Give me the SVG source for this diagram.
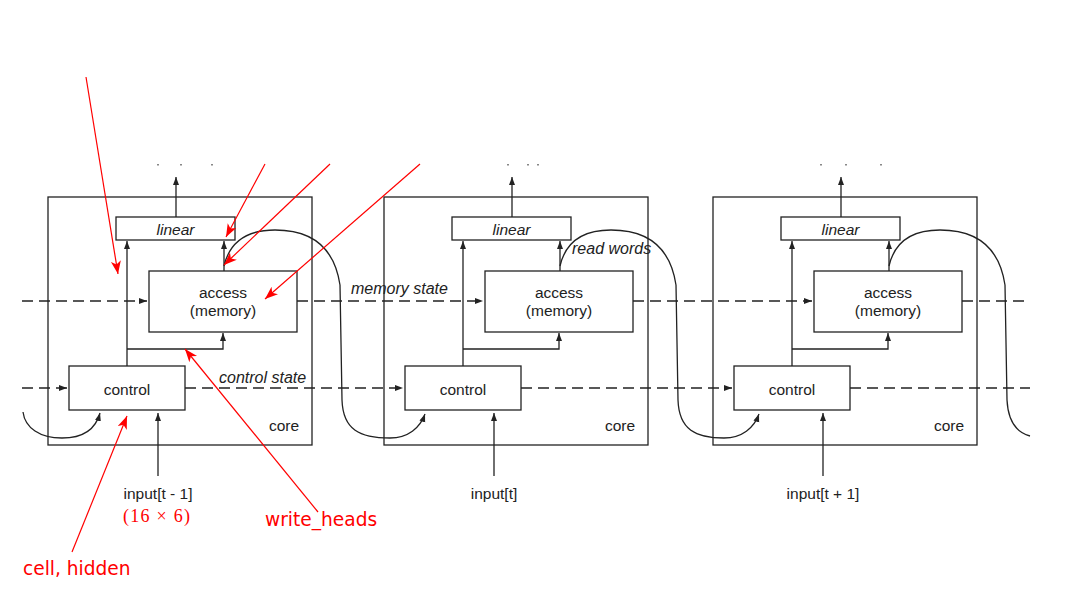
<svg xmlns="http://www.w3.org/2000/svg" width="1080" height="600" viewBox="0 0 1080 600">
<defs>
<marker id="ah" markerUnits="userSpaceOnUse" markerWidth="10" markerHeight="8" refX="8" refY="3" orient="auto"><path d="M0,0 L8,3 L0,6 z" fill="#222"/></marker>
<marker id="rh" markerUnits="userSpaceOnUse" markerWidth="14" markerHeight="12" refX="13" refY="5" orient="auto"><path d="M0,0 L13,5 L0,10 L3.5,5 z" fill="#ff0000"/></marker>
<style>
.core{fill:none;stroke:#222;stroke-width:1.3}
.box{fill:#fff;stroke:#222;stroke-width:1.3}
.ln{fill:none;stroke:#222;stroke-width:1.3}
.arr{fill:none;stroke:#222;stroke-width:1.3;marker-end:url(#ah)}
.dash{fill:none;stroke:#222;stroke-width:1.3;stroke-dasharray:11 6}
.red{fill:none;stroke:#ff0000;stroke-width:1.2;marker-end:url(#rh)}
.t{font-family:"Liberation Sans",Arial,sans-serif;font-size:15.5px;fill:#222}
.ti{font-family:"Liberation Sans",Arial,sans-serif;font-size:15.5px;font-style:italic;fill:#222}
.tl{font-family:"Liberation Sans",Arial,sans-serif;font-size:16px;font-style:italic;fill:#222}
.rt{font-family:"DejaVu Sans",sans-serif;font-size:18.6px;fill:#ff0000}
.rm{font-family:"Liberation Serif","DejaVu Serif",serif;font-size:18px;fill:#ff0000}
.dot{fill:#888}
</style>
</defs>
<rect width="1080" height="600" fill="#fff"/>

<g id="connectors">
<path class="dash" d="M22,301 H147" marker-end="url(#ah)"/>
<path class="dash" d="M297,301 H483" marker-end="url(#ah)"/>
<path class="dash" d="M633,301 H812" marker-end="url(#ah)"/>
<path class="dash" d="M962,301 H1030"/>
<path class="dash" d="M22,388 H67" marker-end="url(#ah)"/>
<path class="dash" d="M185,388 H403" marker-end="url(#ah)"/>
<path class="dash" d="M521,388 H732" marker-end="url(#ah)"/>
<path class="dash" d="M850,388 H1030"/>
<path class="arr" d="M176,217 V177"/>
<path class="arr" d="M127,366 V241"/>
<path class="arr" d="M127,349 H223 V333"/>
<path class="arr" d="M224,271 V241"/>
<path class="arr" d="M158,476 V413"/>
<path class="arr" d="M512,217 V177"/>
<path class="arr" d="M463,366 V241"/>
<path class="arr" d="M463,349 H559 V333"/>
<path class="arr" d="M560,271 V241"/>
<path class="arr" d="M494,476 V413"/>
<path class="arr" d="M841,217 V177"/>
<path class="arr" d="M792,366 V241"/>
<path class="arr" d="M792,349 H888 V333"/>
<path class="arr" d="M889,271 V241"/>
<path class="arr" d="M823,476 V413"/>
<path class="arr" d="M23,412 C25,428 40,438 62,438 C84,438 96,428 100,413"/>
<path class="arr" d="M224,266 C230,240 250,230 275,230 C310,230 334,245 340,285 L342,400 C343,430 360,438 390,438 C408,438 420,428 425,414"/>
<path class="arr" d="M560,266 C566,240 586,230 611,230 C646,230 670,245 676,285 L678,400 C679,430 696,438 724,438 C742,438 754,428 759,414"/>
<path class="ln" d="M889,266 C895,240 915,230 940,230 C975,230 999,245 1005,285 L1007,400 C1008,420 1015,432 1030,436"/>
</g>

<g id="core1">
<rect class="core" x="48" y="197" width="264" height="248"/>
<text class="t" x="269" y="431">core</text>
</g>
<g id="linear1"><rect class="box" x="116" y="217" width="119" height="23"/><text class="ti" x="175.5" y="235" text-anchor="middle">linear</text></g>
<g id="access1"><rect class="box" x="149" y="271" width="148" height="61"/><text class="t" x="223" y="298" text-anchor="middle">access</text><text class="t" x="223" y="316" text-anchor="middle">(memory)</text></g>
<g id="control1"><rect class="box" x="69" y="366" width="116" height="44"/><text class="t" x="127" y="395" text-anchor="middle">control</text></g>
<g id="input1"><text class="t" x="158" y="499" text-anchor="middle">input[t - 1]</text></g>

<g id="core2">
<rect class="core" x="384" y="197" width="264" height="248"/>
<text class="t" x="605" y="431">core</text>
</g>
<g id="linear2"><rect class="box" x="452" y="217" width="119" height="23"/><text class="ti" x="511.5" y="235" text-anchor="middle">linear</text></g>
<g id="access2"><rect class="box" x="485" y="271" width="148" height="61"/><text class="t" x="559" y="298" text-anchor="middle">access</text><text class="t" x="559" y="316" text-anchor="middle">(memory)</text></g>
<g id="control2"><rect class="box" x="405" y="366" width="116" height="44"/><text class="t" x="463" y="395" text-anchor="middle">control</text></g>
<g id="input2"><text class="t" x="494" y="499" text-anchor="middle">input[t]</text></g>

<g id="core3">
<rect class="core" x="713" y="197" width="264" height="248"/>
<text class="t" x="934" y="431">core</text>
</g>
<g id="linear3"><rect class="box" x="781" y="217" width="119" height="23"/><text class="ti" x="840.5" y="235" text-anchor="middle">linear</text></g>
<g id="access3"><rect class="box" x="814" y="271" width="148" height="61"/><text class="t" x="888" y="298" text-anchor="middle">access</text><text class="t" x="888" y="316" text-anchor="middle">(memory)</text></g>
<g id="control3"><rect class="box" x="734" y="366" width="116" height="44"/><text class="t" x="792" y="395" text-anchor="middle">control</text></g>
<g id="input3"><text class="t" x="823" y="499" text-anchor="middle">input[t + 1]</text></g>

<g id="labels">
<text class="tl" x="351" y="294">memory state</text>
<text class="tl" x="219" y="383">control state</text>
<text class="tl" x="572" y="254">read words</text>
</g>

<g id="fragments">
<rect class="dot" x="157" y="164" width="2" height="1.5"/>
<rect class="dot" x="180" y="164" width="2" height="1.5"/>
<rect class="dot" x="211" y="164" width="2" height="1.5"/>
<rect class="dot" x="507" y="164" width="2" height="1.5"/>
<rect class="dot" x="527" y="164" width="2" height="1.5"/>
<rect class="dot" x="537" y="164" width="2" height="1.5"/>
<rect class="dot" x="820" y="164" width="2" height="1.5"/>
<rect class="dot" x="845" y="164" width="2" height="1.5"/>
<rect class="dot" x="880" y="164" width="2" height="1.5"/>
</g>

<g id="annotations">
<path class="red" d="M86,77 L118,274"/>
<path class="red" d="M265,164 L226,237"/>
<path class="red" d="M330,164 L224,265"/>
<path class="red" d="M420,164 L265,299"/>
<path class="red" d="M72,552 L127,416"/>
<path class="red" d="M318,512 L185,349"/>
<text class="rm" x="123" y="522" textLength="67" lengthAdjust="spacing">(16 × 6)</text>
<text class="rt" x="23" y="575">cell, hidden</text>
<text class="rt" x="265" y="526">write_heads</text>
</g>
</svg>
